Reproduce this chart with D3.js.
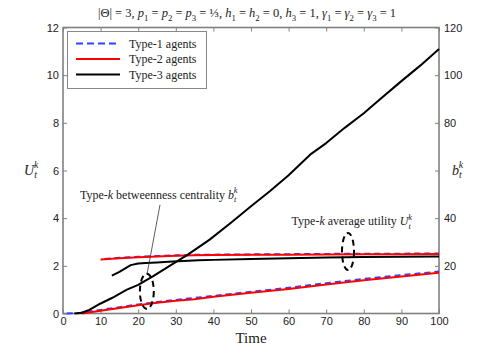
<!DOCTYPE html>
<html>
<head>
<meta charset="utf-8">
<script src="https://cdn.jsdelivr.net/npm/d3@7"></script>
<style>
  body { margin: 0; background: #fff; }
  svg { display: block; }
</style>
</head>
<body>
<svg id="chart" width="485" height="353"></svg>
<script>
//Chart data
const xTicks = [0, 10, 20, 30, 40, 50, 60, 70, 80, 90, 100];
const yLeftTicks = [0, 2, 4, 6, 8, 10, 12];
const yRightTicks = [20, 40, 60, 80, 100, 120];
const yRightLabels = ['20', '40', '', '80', '100', '120'];

//Average utility U (left axis)
const u1Time = [1, 4, 10, 15, 20, 25, 30, 40, 50, 60, 70, 80, 90, 100];
const u1Value = [0, 0.01, 0.15, 0.26, 0.38, 0.48, 0.57, 0.74, 0.91, 1.08, 1.27, 1.45, 1.61, 1.76];
const u2Time = [5, 10, 15, 20, 25, 30, 35, 40, 50, 60, 65, 70, 80, 90, 100];
const u2Value = [0, 0.12, 0.23, 0.35, 0.45, 0.53, 0.6, 0.7, 0.87, 1.03, 1.12, 1.22, 1.4, 1.55, 1.71];
const u3Time = [3, 5, 7, 10, 13, 17, 20, 24, 29, 33, 39, 45, 50, 55, 60, 66, 70, 75, 80, 84, 90, 95, 100];
const u3Value = [0, 0.03, 0.15, 0.42, 0.65, 1.0, 1.2, 1.57, 2.06, 2.45, 3.1, 3.85, 4.5, 5.13, 5.8, 6.7, 7.15, 7.8, 8.4, 8.95, 9.75, 10.4, 11.1];

//Betweenness centrality b (right axis)
const b1Time = [11, 15, 20, 25, 30, 35, 40, 50, 60, 70, 80, 90, 100];
const b1Value = [22.9, 23.4, 23.8, 24.1, 24.4, 24.6, 24.7, 24.8, 24.9, 25.0, 25.1, 25.1, 25.2];
const b2Time = [10, 15, 20, 25, 30, 35, 40, 50, 60, 70, 80, 90, 100];
const b2Value = [22.7, 23.2, 23.6, 23.9, 24.2, 24.4, 24.5, 24.6, 24.7, 24.8, 24.9, 24.9, 25.0];
const b3Time = [13, 15, 18, 20, 22, 25, 28, 32, 36, 40, 50, 60, 70, 80, 90, 100];
const b3Value = [15.9, 17.5, 20.3, 21.0, 21.2, 21.4, 21.7, 22.0, 22.3, 22.5, 22.9, 23.2, 23.5, 23.7, 23.8, 23.9];

const legendNames = ['Type-1 agents', 'Type-2 agents', 'Type-3 agents'];
const colors = ['#2a45ff', '#ff0000', '#000000'];

const svg = d3.select('#chart');
const serif = '"Liberation Serif", "Times New Roman", serif';
const sans = '"Liberation Sans", Arial, sans-serif';
const axisGray = '#808080';

//Scales
const x = d3.scaleLinear().domain([0, 100]).range([63, 439]);
const y = d3.scaleLinear().domain([0, 12]).range([313.5, 27.5]);
const yR = d3.scaleLinear().domain([0, 120]).range([313.5, 27.5]);

//Frame box
svg.append('rect')
  .attr('x', x(0)).attr('y', y(12))
  .attr('width', x(100) - x(0)).attr('height', y(0) - y(12))
  .attr('fill', 'none').attr('stroke', axisGray).attr('stroke-width', 1.6);

function styleAxis(g) {
  g.select('.domain').remove();
  g.selectAll('.tick line').attr('stroke', axisGray).attr('stroke-width', 1);
  g.selectAll('.tick text').attr('fill', '#222').style('font-family', sans).style('font-size', '11px');
}

svg.append('g').attr('transform', `translate(0,${y(0)})`)
  .call(d3.axisBottom(x).tickValues(xTicks).tickSize(-4).tickPadding(4))
  .call(styleAxis);
svg.append('g').attr('transform', `translate(0,${y(12)})`)
  .call(d3.axisTop(x).tickValues(xTicks).tickSize(-4).tickFormat(''))
  .call(styleAxis);
svg.append('g').attr('transform', `translate(${x(0)},0)`)
  .call(d3.axisLeft(y).tickValues(yLeftTicks).tickSize(-4).tickPadding(4))
  .call(styleAxis);
svg.append('g').attr('transform', `translate(${x(100)},0)`)
  .call(d3.axisRight(yR).tickValues(yRightTicks).tickSize(-4).tickPadding(5)
    .tickFormat((d, i) => yRightLabels[i]))
  .call(styleAxis);

//Lines
const plot = svg.append('g');
function drawLine(times, values, scaleY, color, dashed) {
  const pts = times.map((t, i) => [t, values[i]]);
  plot.append('path')
    .datum(pts)
    .attr('fill', 'none')
    .attr('stroke', color)
    .attr('stroke-width', 2)
    .attr('stroke-linejoin', 'round')
    .attr('stroke-dasharray', dashed ? '6,4' : null)
    .attr('d', d3.line().x(d => x(d[0])).y(d => scaleY(d[1])));
}
drawLine(u1Time, u1Value, y, colors[0], true);
drawLine(b1Time, b1Value, yR, colors[0], true);
drawLine(u2Time, u2Value, y, colors[1], false);
drawLine(b2Time, b2Value, yR, colors[1], false);
drawLine(b3Time, b3Value, yR, colors[2], false);
drawLine(u3Time, u3Value, y, colors[2], false);

//Math-style text helper: parts = [text, kind]
function mathText(sel, parts, size) {
  const small = size * 0.7;
  parts.forEach(p => {
    const [txt, kind] = p;
    const ts = sel.append('tspan').text(txt);
    if (kind === 'i') ts.style('font-style', 'italic');
    if (kind === 'sub') ts.style('font-style', 'italic').style('font-size', small + 'px').attr('dy', size * 0.28);
    if (kind === 'subn') ts.style('font-size', small + 'px').attr('dy', size * 0.28);
    if (kind === 'up') ts.attr('dy', -size * 0.28);
    if (kind === 'upi') ts.style('font-style', 'italic').attr('dy', -size * 0.28);
    if (kind === 'supk') ts.style('font-style', 'italic').style('font-size', small + 'px')
      .attr('dx', -small * 0.3).attr('dy', -size * 0.75);
  });
  return sel;
}

//Title
const title = svg.append('text')
  .attr('x', 247).attr('y', 17)
  .attr('text-anchor', 'middle')
  .style('font-family', serif).style('font-size', '12.5px').attr('fill', '#222');
mathText(title, [
  ['|Θ| = 3, ', 'n'],
  ['p', 'i'], ['1', 'subn'], [' = ', 'up'],
  ['p', 'i'], ['2', 'subn'], [' = ', 'up'],
  ['p', 'i'], ['3', 'subn'], [' = ', 'up'],
  ['⅓', 'n'], [', ', 'n'],
  ['h', 'i'], ['1', 'subn'], [' = ', 'up'],
  ['h', 'i'], ['2', 'subn'], [' = 0, ', 'up'],
  ['h', 'i'], ['3', 'subn'], [' = 1, ', 'up'],
  ['γ', 'i'], ['1', 'subn'], [' = ', 'up'],
  ['γ', 'i'], ['2', 'subn'], [' = ', 'up'],
  ['γ', 'i'], ['3', 'subn'], [' = 1', 'up']
], 12.5);

//Axis labels
svg.append('text')
  .attr('x', x(50)).attr('y', 343)
  .attr('text-anchor', 'middle')
  .style('font-family', serif).style('font-size', '15px').attr('fill', '#222')
  .text('Time');

const yl = svg.append('text')
  .attr('x', 24).attr('y', (y(0) + y(12)) / 2 + 4)
  .style('font-family', serif).style('font-size', '14px').attr('fill', '#222');
mathText(yl, [['U', 'i'], ['t', 'sub'], ['k', 'supk']], 14);

const yr = svg.append('text')
  .attr('x', 452).attr('y', (y(0) + y(12)) / 2 + 4)
  .style('font-family', serif).style('font-size', '14px').attr('fill', '#222');
mathText(yr, [['b', 'i'], ['t', 'sub'], ['k', 'supk']], 14);

//Annotations
const a1 = svg.append('text')
  .attr('x', x(4.5)).attr('y', y(4.82))
  .style('font-family', serif).style('font-size', '12px').attr('fill', '#222');
mathText(a1, [['Type-', 'n'], ['k', 'i'], [' betweenness centrality ', 'n'], ['b', 'i'], ['t', 'sub'], ['k', 'supk']], 12);

const a2 = svg.append('text')
  .attr('x', x(60.8)).attr('y', y(3.7))
  .style('font-family', serif).style('font-size', '12px').attr('fill', '#222');
mathText(a2, [['Type-', 'n'], ['k', 'i'], [' average utility ', 'n'], ['U', 'i'], ['t', 'sub'], ['k', 'supk']], 12);

svg.append('line')
  .attr('x1', x(25.8)).attr('y1', y(4.56))
  .attr('x2', x(22.4)).attr('y2', y(1.69))
  .attr('stroke', '#333').attr('stroke-width', 0.8);

//Dashed ellipses, centres and radii in data units
const ellipses = [
  { t: 22.3, v: 0.93, rt: 1.85, rv: 0.74 },
  { t: 75.8, v: 2.6, rt: 1.6, rv: 0.78 }
];
svg.selectAll('ellipse.mark')
  .data(ellipses)
  .enter()
  .append('ellipse')
  .attr('cx', d => x(d.t))
  .attr('cy', d => y(d.v))
  .attr('rx', d => x(d.rt) - x(0))
  .attr('ry', d => y(0) - y(d.rv))
  .attr('fill', 'none')
  .attr('stroke', '#000')
  .attr('stroke-width', 2)
  .attr('stroke-dasharray', '6,4');

//Legend
const legend = svg.append('g');
legend.append('rect')
  .attr('x', 67.5).attr('y', 31.5)
  .attr('width', 139).attr('height', 57)
  .attr('fill', '#fff').attr('stroke', '#888').attr('stroke-width', 1);
legendNames.forEach((name, i) => {
  const ly = 43.5 + i * 15.5;
  legend.append('line')
    .attr('x1', 76).attr('x2', 120)
    .attr('y1', ly).attr('y2', ly)
    .attr('stroke', colors[i]).attr('stroke-width', 2.2)
    .attr('stroke-dasharray', i === 0 ? '7,4' : null);
  legend.append('text')
    .attr('x', 129).attr('y', ly + 4)
    .style('font-family', serif).style('font-size', '12px').attr('fill', '#222')
    .text(name);
});
</script>
</body>
</html>
